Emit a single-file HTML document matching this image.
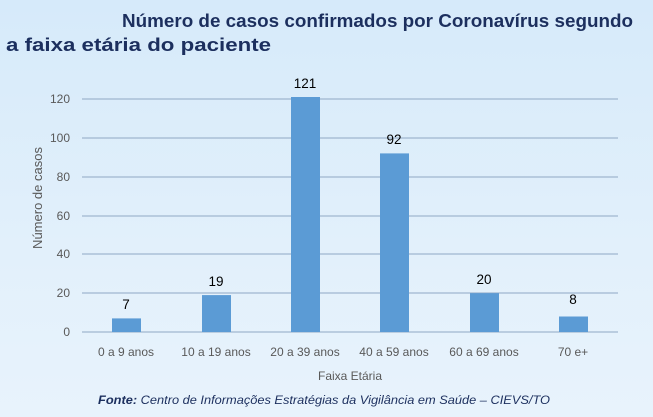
<!DOCTYPE html><html><head><style>
html,body{margin:0;width:653px;height:417px;overflow:hidden}
body{background:linear-gradient(180deg,#d6eafa 0%,#e2f0fb 60%,#e8f3fc 100%);font-family:"Liberation Sans",sans-serif}
svg{display:block}
</style></head><body>
<svg width="653" height="417" xmlns="http://www.w3.org/2000/svg" font-family="Liberation Sans, sans-serif">
<text x="122" y="27" font-size="18" font-weight="bold" fill="#1c2f5e" textLength="511" lengthAdjust="spacingAndGlyphs">Número de casos confirmados por Coronavírus segundo</text>
<text x="6" y="51" font-size="18" font-weight="bold" fill="#1c2f5e" textLength="265" lengthAdjust="spacingAndGlyphs">a faixa etária do paciente</text>
<g stroke="#8fa8c4" stroke-width="1">
<line x1="82" y1="99" x2="618" y2="99"/><line x1="82" y1="138" x2="618" y2="138"/><line x1="82" y1="177" x2="618" y2="177"/><line x1="82" y1="216" x2="618" y2="216"/><line x1="82" y1="254" x2="618" y2="254"/><line x1="82" y1="293" x2="618" y2="293"/><line x1="82" y1="332" x2="618" y2="332"/>
</g>
<g font-size="12" fill="#595959" text-anchor="end">
<text x="70" y="103">120</text><text x="70" y="142">100</text><text x="70" y="181">80</text><text x="70" y="220">60</text><text x="70" y="258">40</text><text x="70" y="297">20</text><text x="70" y="336">0</text>
</g>
<text transform="translate(42,198) rotate(-90)" font-size="13" fill="#595959" text-anchor="middle">Número de casos</text>
<g fill="#5b9bd5">
<rect x="112" y="318.4" width="29" height="13.6"/>
<rect x="202" y="295.1" width="29" height="36.9"/>
<rect x="291" y="97" width="29" height="235"/>
<rect x="380" y="153.4" width="29" height="178.6"/>
<rect x="470" y="293.2" width="29" height="38.8"/>
<rect x="559" y="316.5" width="29" height="15.5"/>
</g>
<g font-size="13.5" fill="#000" text-anchor="middle">
<text x="126" y="309">7</text><text x="216" y="286">19</text><text x="305" y="88">121</text><text x="394" y="144">92</text><text x="484" y="284">20</text><text x="573" y="304">8</text>
</g>
<g font-size="12" fill="#595959" text-anchor="middle">
<text x="126" y="356">0 a 9 anos</text><text x="216" y="356">10 a 19 anos</text><text x="305" y="356">20 a 39 anos</text><text x="394" y="356">40 a 59 anos</text><text x="484" y="356">60 a 69 anos</text><text x="573" y="356">70 e+</text>
</g>
<text x="350" y="380" font-size="12" fill="#595959" text-anchor="middle">Faixa Etária</text>
<text x="98" y="404" font-size="11.5" font-style="italic" fill="#1c2f5e" textLength="452" lengthAdjust="spacingAndGlyphs"><tspan font-weight="bold">Fonte:</tspan> Centro de Informações Estratégias da Vigilância em Saúde – CIEVS/TO</text>
</svg>
</body></html>
